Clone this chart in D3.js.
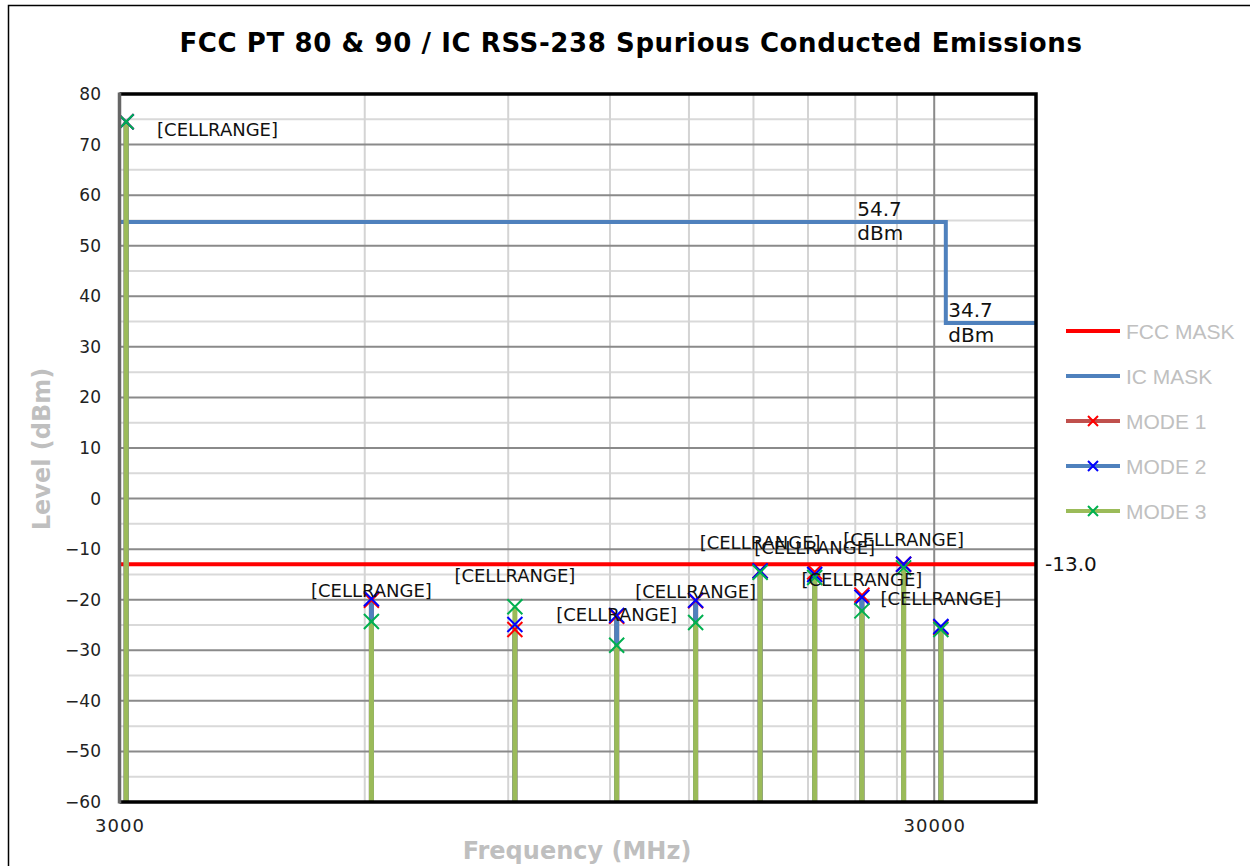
<!DOCTYPE html>
<html>
<head>
<meta charset="utf-8">
<script src="https://cdn.jsdelivr.net/npm/d3@7"></script>
<style>
  body { margin: 0; background: #fff; }
  svg { display: block; }
</style>
</head>
<body>
<svg id="chart" width="1250" height="866"></svg>
<script>
'use strict';

var title = 'FCC PT 80 & 90 / IC RSS-238 Spurious Conducted Emissions';

// harmonic frequencies (MHz) and measured levels (dBm)
var freqs = [3057, 6114, 9171, 12228, 15285, 18342, 21399, 24456, 27513, 30570];
var mode1 = [74.5, -20.1, -25.9, -23.3, -20.2, -14.3, -14.5, -19.1, -13.0, -25.5];
var mode2 = [74.5, -19.8, -24.9, -23.1, -20.1, -14.3, -15.0, -19.5, -13.0, -25.3];
var mode3 = [74.5, -24.3, -21.4, -29.0, -24.5, -14.6, -15.6, -22.2, -13.7, -25.9];

// limit masks
var fccFreq = [3000, 40000];
var fccLevel = [-13, -13];
var icFreq = [3000, 31000, 31000, 40000];
var icLevel = [54.7, 54.7, 34.7, 34.7];

// data label anchors
var labelText = '[CELLRANGE]';
var labelFreq = [3958, 6114, 9171, 12228, 15285, 18342, 21399, 24456, 27513, 30570];
var labelLevel = [72.9, -18.1, -15.3, -23.0, -18.4, -8.6, -9.7, -16.0, -8.0, -19.8];

// axes
var yTicks = [-60, -50, -40, -30, -20, -10, 0, 10, 20, 30, 40, 50, 60, 70, 80];
var yMinor = [-55, -45, -35, -25, -15, -5, 5, 15, 25, 35, 45, 55, 65, 75];
var xTicks = [3000, 30000];
var xMinor = [6000, 9000, 12000, 15000, 18000, 21000, 24000, 27000];

var legendNames = ['FCC MASK', 'IC MASK', 'MODE 1', 'MODE 2', 'MODE 3'];

var lineColor = {
  'FCC MASK': '#ff0000',
  'IC MASK': '#4f81bd',
  'MODE 1': '#c0504d',
  'MODE 2': '#4f81bd',
  'MODE 3': '#9bbb59'
};
var markColor = {
  'MODE 1': '#ff0000',
  'MODE 2': '#0000ff',
  'MODE 3': '#00b050'
};

var svg = d3.select('#chart');

var x = d3.scaleLog().domain([3000, 40000]).range([119.5, 1036]);
var y = d3.scaleLinear().domain([-60, 80]).range([802, 94]);

// outer chart border
svg.append('rect')
  .attr('x', 8.5).attr('y', 5.5)
  .attr('width', 1300).attr('height', 900)
  .attr('fill', 'none').attr('stroke', '#000').attr('stroke-width', 1.5);

// title
svg.append('text')
  .attr('x', 631).attr('y', 52)
  .attr('text-anchor', 'middle')
  .style('font', 'bold 26px "DejaVu Sans"')
  .style('letter-spacing', '0.6px')
  .attr('fill', '#000')
  .text(title);

var grid = svg.append('g');

grid.selectAll('.ymin').data(yMinor).enter().append('line')
  .attr('x1', x.range()[0]).attr('x2', x.range()[1])
  .attr('y1', y).attr('y2', y)
  .attr('stroke', '#d9d9d9').attr('stroke-width', 2);

grid.selectAll('.xmin').data(xMinor).enter().append('line')
  .attr('x1', x).attr('x2', x)
  .attr('y1', y.range()[0]).attr('y2', y.range()[1])
  .attr('stroke', '#d4d4d4').attr('stroke-width', 2);

grid.selectAll('.ymaj').data(yTicks).enter().append('line')
  .attr('x1', x.range()[0]).attr('x2', x.range()[1])
  .attr('y1', y).attr('y2', y)
  .attr('stroke', '#8a8a8a').attr('stroke-width', 2);

grid.selectAll('.xmaj').data([30000]).enter().append('line')
  .attr('x1', x).attr('x2', x)
  .attr('y1', y.range()[0]).attr('y2', y.range()[1])
  .attr('stroke', '#8a8a8a').attr('stroke-width', 2);

// masks
var line = d3.line()
  .x(function(d){ return x(d[0]); })
  .y(function(d){ return y(d[1]); });

svg.append('path')
  .datum(d3.zip(fccFreq, fccLevel))
  .attr('d', line)
  .attr('fill', 'none').attr('stroke', lineColor['FCC MASK']).attr('stroke-width', 4);

svg.append('path')
  .datum(d3.zip(icFreq, icLevel))
  .attr('d', line)
  .attr('fill', 'none').attr('stroke', lineColor['IC MASK']).attr('stroke-width', 4);

// stems and markers for each mode
var modes = [
  { name: 'MODE 1', values: mode1 },
  { name: 'MODE 2', values: mode2 },
  { name: 'MODE 3', values: mode3 }
];

var stems = svg.append('g');
modes.forEach(function(m){
  stems.selectAll(null).data(m.values).enter().append('line')
    .attr('x1', function(d, i){ return x(freqs[i]); })
    .attr('x2', function(d, i){ return x(freqs[i]); })
    .attr('y1', y(-60))
    .attr('y2', function(d){ return y(d); })
    .attr('stroke', lineColor[m.name])
    .attr('stroke-width', 5);
});

function cross(sel, s) {
  sel.append('path')
    .attr('d', 'M' + (-s) + ',' + (-s) + 'L' + s + ',' + s + 'M' + (-s) + ',' + s + 'L' + s + ',' + (-s));
}

var marks = svg.append('g');
modes.forEach(function(m){
  marks.selectAll(null).data(m.values).enter().append('g')
    .attr('transform', function(d, i){ return 'translate(' + x(freqs[i]) + ',' + y(d) + ')'; })
    .attr('stroke', markColor[m.name])
    .attr('stroke-width', 2)
    .each(function(){ cross(d3.select(this), 7.5); });
});

// plot frame
svg.append('path')
  .attr('d', 'M' + x.range()[0] + ',' + y(80) + 'H' + x.range()[1] + 'V' + y(-60) + 'H' + x.range()[0])
  .attr('fill', 'none').attr('stroke', '#000').attr('stroke-width', 3.5);
svg.append('line')
  .attr('x1', x.range()[0]).attr('x2', x.range()[0])
  .attr('y1', y(80) - 1.5).attr('y2', y(-60) + 1.5)
  .attr('stroke', '#666').attr('stroke-width', 3.5);

// axes
var yAxis = svg.append('g')
  .attr('transform', 'translate(' + x.range()[0] + ',0)')
  .call(d3.axisLeft(y).tickValues(yTicks).tickSize(0).tickPadding(18.5));
yAxis.select('.domain').remove();
yAxis.selectAll('text')
  .style('font', '17px "DejaVu Sans"').attr('fill', '#222');

var xAxis = svg.append('g')
  .attr('transform', 'translate(0,' + y(-60) + ')')
  .call(d3.axisBottom(x).tickValues(xTicks).tickSize(0).tickPadding(17).tickFormat(d3.format('d')));
xAxis.select('.domain').remove();
xAxis.selectAll('text')
  .style('font', '18px "DejaVu Sans"').style('letter-spacing', '1px').attr('fill', '#222');

// axis titles
svg.append('text')
  .attr('transform', 'translate(50,449) rotate(-90)')
  .attr('text-anchor', 'middle')
  .style('font', 'bold 24px "DejaVu Sans"')
  .attr('fill', '#bfbfbf')
  .text('Level (dBm)');

svg.append('text')
  .attr('x', 577).attr('y', 859)
  .attr('text-anchor', 'middle')
  .style('font', 'bold 24px "DejaVu Sans"')
  .attr('fill', '#bfbfbf')
  .text('Frequency (MHz)');

// data labels
svg.append('g').selectAll('text').data(labelLevel).enter().append('text')
  .attr('x', function(d, i){ return x(labelFreq[i]); })
  .attr('y', function(d){ return y(d); })
  .attr('dy', '0.36em')
  .attr('text-anchor', 'middle')
  .style('font', '18px "DejaVu Sans"')
  .attr('fill', '#111')
  .text(labelText);

// mask labels
var maskLab = svg.append('g').style('font', '20px "DejaVu Sans"').attr('fill', '#111');
maskLab.append('text').attr('x', x(icFreq[1]) - 88.5).attr('y', y(icLevel[1]) - 6).text(icLevel[1].toFixed(1));
maskLab.append('text').attr('x', x(icFreq[1]) - 88.5).attr('y', y(icLevel[1]) + 18.5).text('dBm');
maskLab.append('text').attr('x', x(icFreq[2]) + 2.5).attr('y', y(icLevel[2]) - 6).text(icLevel[2].toFixed(1));
maskLab.append('text').attr('x', x(icFreq[2]) + 2.5).attr('y', y(icLevel[2]) + 18.5).text('dBm');
maskLab.append('text').attr('x', x.range()[1] + 9).attr('y', y(fccLevel[1]) + 7).text(fccLevel[1].toFixed(1));

// legend
var legend = svg.append('g').attr('transform', 'translate(1066,331)');
var item = legend.selectAll('g').data(legendNames).enter().append('g')
  .attr('transform', function(d, i){ return 'translate(0,' + (i * 45) + ')'; });
item.append('line')
  .attr('x1', 0).attr('x2', 54)
  .attr('stroke', function(d){ return lineColor[d]; })
  .attr('stroke-width', 4);
item.filter(function(d){ return markColor[d]; }).append('g')
  .attr('transform', 'translate(27,0)')
  .attr('stroke', function(d){ return markColor[d]; })
  .attr('stroke-width', 2)
  .each(function(){ cross(d3.select(this), 5); });
item.append('text')
  .attr('x', 60).attr('dy', '0.36em')
  .style('font', '21px "Liberation Sans"')
  .attr('fill', '#c0c0c0')
  .text(function(d){ return d; });
</script>
</body>
</html>
